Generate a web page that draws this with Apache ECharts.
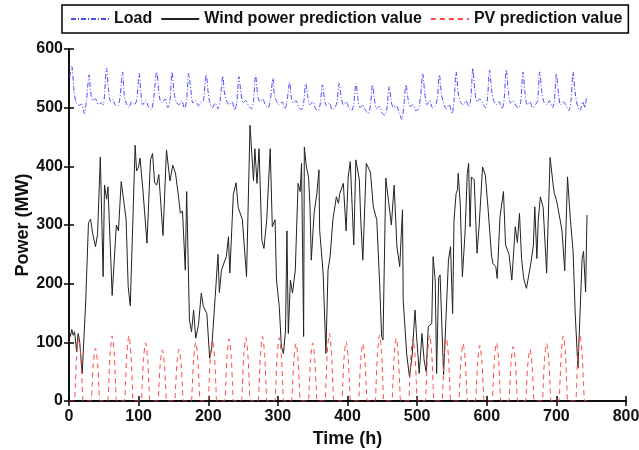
<!DOCTYPE html>
<html>
<head>
<meta charset="utf-8">
<script src="https://cdn.jsdelivr.net/npm/echarts@6/dist/echarts.min.js"></script>
<style>
  html, body { margin: 0; padding: 0; background: #fff; }
  #chart { width: 639px; height: 450px; }
</style>
</head>
<body>
<div id="chart"></div>
<script>
// hours / MW (turning points)
const xTicks = [0, 100, 200, 300, 400, 500, 600, 700, 800];
const yTicks = [0, 100, 200, 300, 400, 500, 600];

const loadData = [
  [1,552],[4,570],[7,532],[10,510],[14,504],[18,506],[22,490],[25,512],
  [29,556],[31,528],[34,512],[38,515],[42,506],[46,508],[49,505],
  [54,567],[57,528],[60,510],[63,514],[66,505],[70,503],[73,515],
  [77,561],[79,525],[82,508],[86,500],[90,510],[94,505],[97,512],
  [101,558],[103,528],[106,505],[110,512],[114,502],[118,497],[121,510],
  [126,561],[129,528],[131,512],[134,508],[138,515],[142,500],[145,512],
  [148,561],[151,525],[154,510],[158,505],[162,512],[166,497],[169,515],
  [172,558],[175,530],[178,508],[182,512],[186,503],[190,510],[193,512],
  [197,556],[200,525],[202,510],[206,500],[210,508],[214,498],[217,512],
  [221,554],[223,528],[226,512],[230,505],[234,510],[238,496],[241,510],
  [244,553],[247,525],[250,508],[254,512],[258,503],[262,498],[265,512],
  [268,556],[271,522],[274,510],[278,515],[282,505],[286,500],[289,512],
  [293,550],[295,520],[298,512],[302,505],[306,510],[310,498],[313,510],
  [317,544],[319,520],[322,508],[326,512],[330,500],[334,497],[337,508],
  [340,541],[343,518],[346,505],[350,510],[354,498],[358,495],[361,508],
  [364,539],[367,515],[370,503],[374,508],[378,497],[382,500],[385,510],
  [388,541],[391,518],[394,505],[398,510],[402,500],[406,495],[409,508],
  [412,541],[415,515],[418,500],[422,505],[426,495],[430,490],[433,505],
  [436,539],[439,512],[442,498],[446,502],[450,490],[454,487],[457,503],
  [460,536],[463,510],[466,500],[470,503],[474,492],[478,480],[481,505],
  [484,539],[487,515],[490,502],[494,505],[498,495],[502,498],[505,520],
  [508,558],[511,525],[514,505],[518,512],[522,500],[526,503],[529,515],
  [532,556],[535,522],[538,508],[542,498],[546,505],[550,490],[553,512],
  [556,561],[559,525],[562,510],[566,505],[570,512],[574,502],[577,515],
  [580,567],[583,528],[586,510],[590,515],[594,508],[598,500],[601,515],
  [604,564],[607,530],[610,512],[614,505],[618,510],[622,498],[625,515],
  [628,565],[631,528],[634,508],[638,512],[642,503],[646,500],[649,512],
  [652,561],[655,525],[658,505],[662,510],[666,500],[670,505],[673,512],
  [676,561],[679,528],[682,510],[686,505],[690,512],[694,500],[697,510],
  [700,558],[703,525],[706,505],[710,510],[714,503],[718,495],[721,512],
  [724,561],[727,525],[730,505],[734,495],[738,510],[741,500],[743,516]
];

const windData = [
  [0,121],[2,110],[4,122],[6,112],[8,118],[11,84],[13,115],[15,105],[19,47],[24,170],
  [28,304],[31,310],[34,285],[38,263],[41,284],[45,416],[49,212],[51,368],[54,344],[56,365],
  [62,180],[68,300],[70,300],[71,290],[75,374],[82,310],[85,195],[88,162],[95,436],[97,392],
  [100,399],[102,414],[106,362],[112,269],[117,411],[120,422],[123,372],[126,368],[129,386],[135,282],
  [140,428],[145,375],[149,402],[153,388],[157,351],[160,320],[163,324],[167,223],[169,357],[173,138],
  [176,118],[179,155],[182,107],[186,130],[190,184],[193,161],[198,149],[202,73],[205,90],[210,178],
  [214,250],[216,185],[219,223],[224,240],[226,246],[229,280],[231,218],[236,352],[240,372],[243,330],
  [249,309],[255,212],[260,470],[265,376],[267,430],[270,371],[273,430],[277,274],[280,260],[284,309],
  [289,430],[292,297],[296,309],[298,206],[302,161],[305,93],[308,81],[311,121],[313,290],[315,115],
  [318,206],[321,184],[325,223],[329,371],[332,357],[334,405],[337,110],[338,433],[341,399],[344,382],
  [346,337],[348,240],[352,320],[356,354],[359,394],[360,291],[365,218],[369,81],[372,223],[375,246],
  [379,309],[384,348],[387,337],[389,354],[394,371],[398,290],[401,382],[404,408],[409,266],[412,411],
  [414,414],[417,377],[419,309],[422,240],[427,405],[433,390],[437,331],[442,309],[446,206],[449,110],
  [451,104],[455,380],[459,340],[463,300],[467,368],[471,263],[475,229],[479,326],[480,172],[485,80],
  [489,41],[493,80],[497,155],[499,115],[503,47],[507,115],[510,70],[513,50],[516,127],[521,132],
  [523,246],[526,205],[528,47],[531,210],[533,215],[538,45],[545,240],[548,263],[551,149],[553,309],
  [556,354],[558,360],[559,388],[562,334],[565,212],[569,290],[572,388],[574,405],[576,297],[578,382],
  [582,377],[586,252],[589,297],[594,399],[598,385],[602,326],[607,246],[609,234],[613,229],[615,209],
  [619,314],[624,357],[627,266],[632,250],[636,206],[641,297],[644,270],[647,320],[650,243],[653,209],
  [657,192],[663,232],[667,266],[669,331],[672,243],[674,309],[677,348],[681,330],[686,218],[691,415],
  [695,372],[697,354],[700,343],[704,318],[708,291],[712,222],[716,382],[720,311],[724,255],[727,150],
  [731,56],[734,150],[737,243],[739,255],[742,186],[744,317]
];

const pvData = [
  [0,0],
  [7,0],[9,27],[11,77],[14,107],[17,77],[19,27],[21,0],
  [31,0],[33,23],[35,65],[38,90],[41,65],[43,23],[45,0],
  [55,0],[57,28],[59,80],[62,111],[65,80],[67,28],[69,0],
  [79,0],[81,28],[83,80],[86,111],[89,80],[91,28],[93,0],
  [103,0],[105,25],[107,71],[110,99],[113,71],[115,25],[117,0],
  [127,0],[129,22],[131,63],[134,87],[137,63],[139,22],[141,0],
  [151,0],[153,22],[155,63],[158,88],[161,63],[163,22],[165,0],
  [175,0],[177,25],[179,72],[182,100],[185,72],[187,25],[189,0],
  [199,0],[201,26],[203,75],[206,104],[209,75],[211,26],[213,0],
  [223,0],[225,27],[227,76],[230,106],[233,76],[235,27],[237,0],
  [247,0],[249,27],[251,78],[254,108],[257,78],[259,27],[261,0],
  [271,0],[273,28],[275,79],[278,110],[281,79],[283,28],[285,0],
  [295,0],[297,27],[299,78],[302,108],[305,78],[307,27],[309,0],
  [319,0],[321,25],[323,71],[326,98],[329,71],[331,25],[333,0],
  [343,0],[345,25],[347,71],[350,99],[353,71],[355,25],[357,0],
  [367,0],[369,29],[371,83],[374,115],[377,83],[379,29],[381,0],
  [391,0],[393,25],[395,73],[398,101],[401,73],[403,25],[405,0],
  [415,0],[417,25],[419,71],[422,98],[425,71],[427,25],[429,0],
  [439,0],[441,28],[443,81],[446,112],[449,81],[451,28],[453,0],
  [463,0],[465,27],[467,77],[470,107],[473,77],[475,27],[477,0],
  [487,0],[489,27],[491,77],[494,107],[497,77],[499,27],[501,0],
  [511,0],[513,28],[515,81],[518,112],[521,81],[523,28],[525,0],
  [535,0],[537,27],[539,77],[542,107],[545,77],[547,27],[549,0],
  [559,0],[561,25],[563,71],[566,98],[569,71],[571,25],[573,0],
  [583,0],[585,24],[587,68],[590,95],[593,68],[595,24],[597,0],
  [607,0],[609,25],[611,71],[614,99],[617,71],[619,25],[621,0],
  [631,0],[633,23],[635,67],[638,93],[641,67],[643,23],[645,0],
  [655,0],[657,22],[659,63],[662,88],[665,63],[667,22],[669,0],
  [679,0],[681,25],[683,71],[686,98],[689,71],[691,25],[693,0],
  [703,0],[705,28],[707,80],[710,111],[713,80],[715,28],[717,0],
  [727,0],[729,28],[731,81],[734,112],[737,81],[739,28],[741,0],
  [744,0]
];

const fontFamily = 'Arial, "Liberation Sans", sans-serif';

const chart = echarts.init(document.getElementById('chart'), null, { renderer: 'canvas' });

const axisLine = { show: true, lineStyle: { color: '#000', width: 1.5 } };
const axisTick = { show: true, inside: true, length: 5, lineStyle: { color: '#000', width: 1.5 } };

chart.setOption({
  animation: false,
  backgroundColor: '#fff',
  legend: {
    left: 62,
    top: 5,
    padding: [6, 6, 6, 8],
    itemGap: 8,
    itemWidth: 38,
    itemHeight: 14,
    borderColor: '#000',
    borderWidth: 1.5,
    itemStyle: { opacity: 0 },
    textStyle: { fontFamily, fontWeight: 'bold', fontSize: 16, color: '#111' },
    data: ['Load', 'Wind power prediction value', 'PV prediction value']
  },
  grid: { left: 69, right: 13, top: 49, bottom: 49, outerBoundsMode: 'none' },
  xAxis: [
    {
      type: 'value', min: xTicks[0], max: xTicks[xTicks.length - 1], interval: 100,
      name: 'Time (h)', nameLocation: 'middle', nameGap: 29, nameMoveOverlap: false,
      nameTextStyle: { fontFamily, fontWeight: 'bold', fontSize: 18, color: '#111' },
      axisLine, axisTick,
      axisLabel: { margin: 8, fontFamily, fontWeight: 'bold', fontSize: 16, color: '#111' },
      splitLine: { show: false }
    },
    {
      type: 'value', position: 'top', min: 0, max: 800, interval: 100,
      axisLine, axisTick, axisLabel: { show: false }, splitLine: { show: false }
    }
  ],
  yAxis: [
    {
      type: 'value', min: yTicks[0], max: yTicks[yTicks.length - 1], interval: 100,
      name: 'Power (MW)', nameLocation: 'middle', nameGap: 37, nameMoveOverlap: false,
      nameTextStyle: { fontFamily, fontWeight: 'bold', fontSize: 18, color: '#111' },
      axisLine, axisTick,
      axisLabel: { margin: 6, fontFamily, fontWeight: 'bold', fontSize: 16, color: '#111' },
      splitLine: { show: false }
    },
    {
      type: 'value', position: 'right', min: 0, max: 600, interval: 100,
      axisLine, axisTick, axisLabel: { show: false }, splitLine: { show: false }
    }
  ],
  series: [
    {
      name: 'Load', type: 'line', data: loadData, symbol: 'none', smooth: 0.3,
      lineStyle: { color: '#4a4aff', width: 1, type: [5, 2, 1, 2] },
      itemStyle: { color: '#4a4aff' }
    },
    {
      name: 'Wind power prediction value', type: 'line', data: windData, symbol: 'none',
      lineStyle: { color: '#222', width: 1 },
      itemStyle: { color: '#222' }
    },
    {
      name: 'PV prediction value', type: 'line', data: pvData, symbol: 'none', smooth: 0.3,
      lineStyle: { color: '#ff4a4a', width: 1, type: [5, 4] },
      itemStyle: { color: '#ff4a4a' }
    }
  ]
});
</script>
</body>
</html>
